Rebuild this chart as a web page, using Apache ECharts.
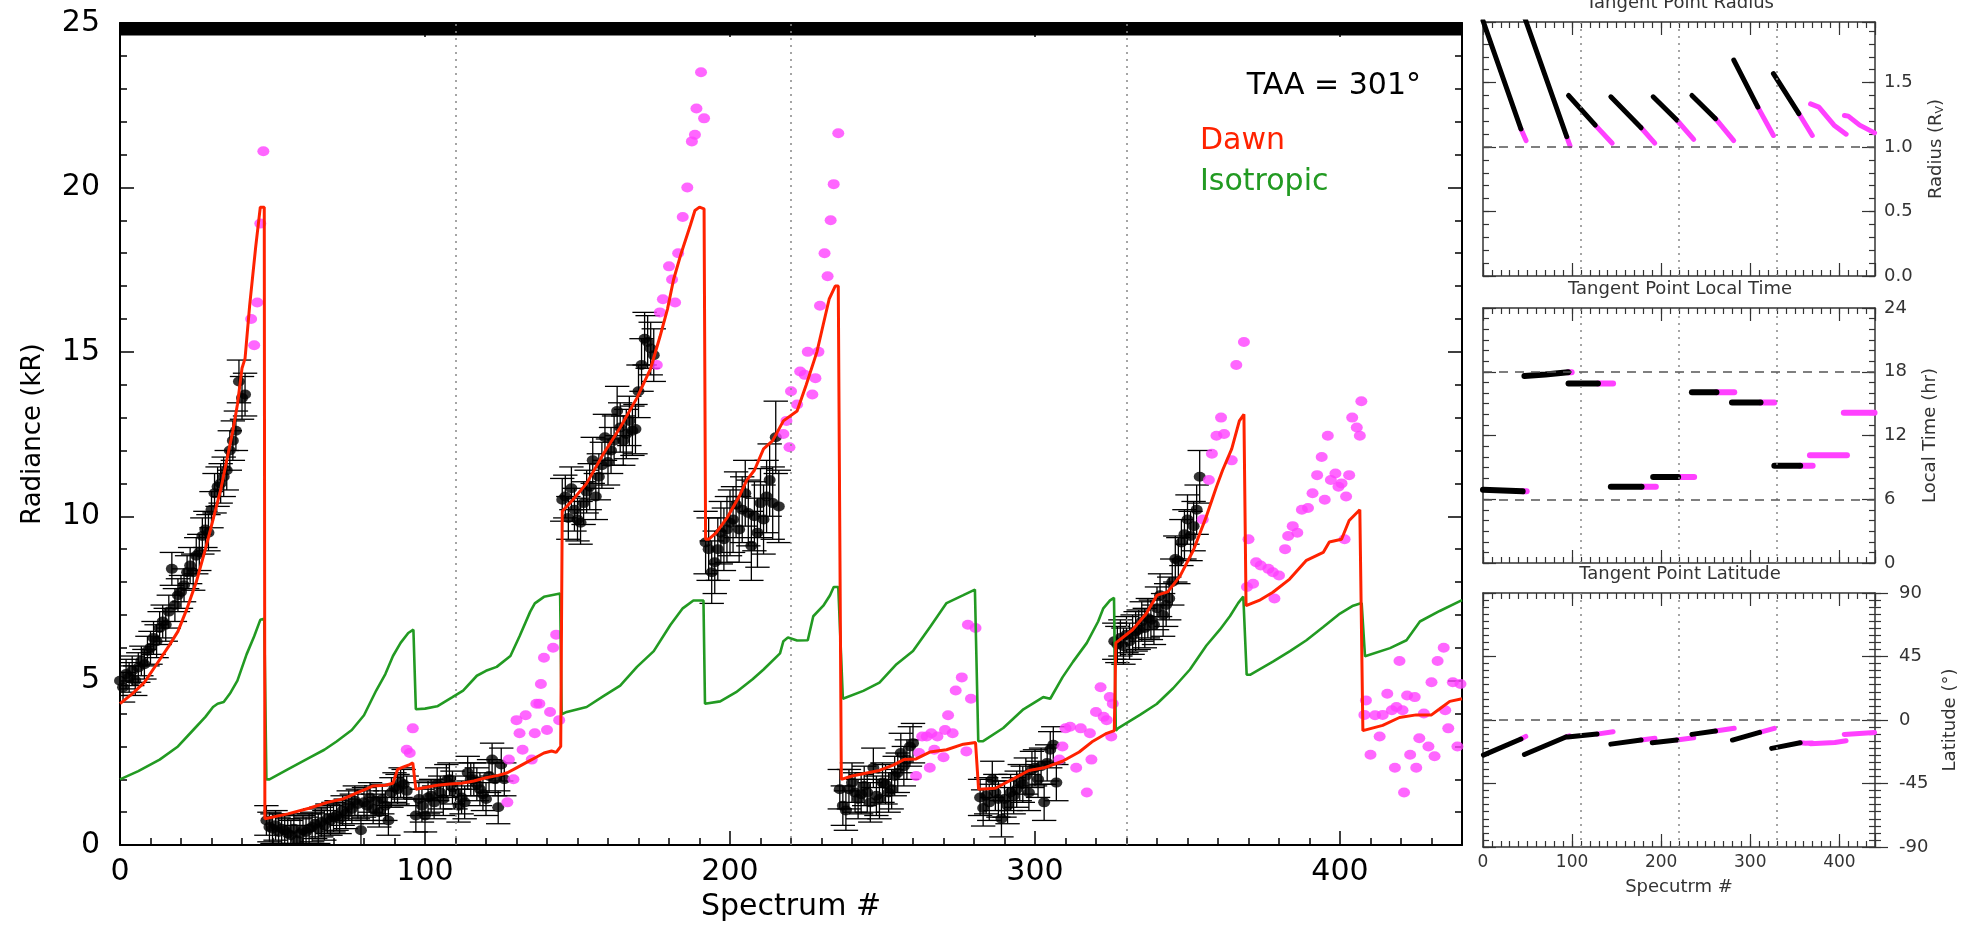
<!DOCTYPE html>
<html><head><meta charset="utf-8">
<script src="https://cdn.jsdelivr.net/npm/echarts@6/dist/echarts.min.js"></script>
<style>html,body{margin:0;padding:0;background:#fff}#c{width:1972px;height:927px}</style>
</head><body><div id="c"></div>
<script>
// ---------------- DATA ----------------
const scanDividers = [110, 220, 330];
const spectrumRange = [0, 440];

// observed radiance (black, with error bars): [spectrum, kR, err]
const observed = [
[0,5.0,.45],[1,4.8,.45],[2,5.2,.45],[3,5.1,.45],[4,5.3,.45],[5,5.0,.45],[6,5.4,.45],[7,5.6,.45],[8,5.5,.45],[9,5.9,.45],
[10,6.0,.5],[11,6.3,.5],[12,6.2,.5],[13,6.6,.5],[14,6.8,.5],[15,6.7,.5],[16,7.1,.5],[17,8.4,.5],[18,7.3,.5],[19,7.6,.5],
[20,7.7,.5],[21,7.9,.5],[22,8.3,.5],[23,8.5,.55],[24,8.3,.55],[25,8.8,.55],[26,8.9,.55],[27,9.4,.55],[28,9.6,.55],[29,9.5,.55],
[30,10.2,.55],[31,10.7,.6],[32,10.9,.6],[33,11.0,.6],[34,11.2,.6],[35,11.4,.6],[36,12.0,.6],[37,12.3,.6],[38,12.6,.6],[39,14.1,.65],
[40,13.6,.65],[41,13.7,.65],
[48,0.75,.45],[49,0.55,.45],[50,0.5,.45],[51,0.6,.45],[52,0.4,.45],[53,0.5,.45],[54,0.45,.45],[55,0.35,.45],[56,0.3,.45],[57,0.5,.45],
[58,0.15,.45],[59,0.35,.45],[60,0.45,.45],[61,0.4,.45],[62,0.5,.45],[63,0.55,.45],[64,0.65,.45],[65,0.5,.45],[66,0.7,.45],[67,0.6,.45],
[68,0.8,.45],[69,0.75,.45],[70,0.85,.45],[71,0.9,.45],[72,0.8,.45],[73,1.05,.45],[74,0.95,.45],[75,1.2,.45],[76,1.1,.45],[77,1.35,.45],
[78,1.25,.45],[79,0.45,.45],[80,1.3,.45],[81,1.2,.45],[82,1.45,.45],[83,1.1,.45],[84,1.35,.45],[85,1.0,.45],[86,1.4,.45],[87,1.2,.45],
[88,0.75,.45],[89,1.6,.45],[90,1.75,.45],[91,1.7,.45],[92,1.9,.45],[93,1.85,.45],[94,1.65,.45],
[97,0.9,.5],[98,1.4,.5],[99,1.2,.5],[100,0.9,.5],[101,1.45,.5],[102,1.5,.5],[103,1.3,.5],[104,1.85,.5],[105,1.6,.5],[106,1.4,.5],
[107,1.95,.5],[108,2.0,.5],[109,1.75,.5],[110,1.6,.5],[111,1.2,.5],[112,1.45,.5],[113,1.3,.5],[114,2.2,.5],[115,2.0,.5],[116,2.0,.5],
[117,1.85,.5],[118,1.7,.5],[119,1.55,.5],[120,1.4,.5],[121,2.1,.5],[122,2.6,.5],[123,2.0,.5],[124,1.15,.5],[125,2.45,.5],[126,2.0,.5],
[145,10.5,.65],[146,10.6,.65],[147,9.95,.65],[148,10.85,.65],[149,10.2,.65],[150,9.9,.65],[151,9.8,.65],[152,10.4,.65],[153,10.75,.65],[154,10.9,.7],
[155,11.7,.7],[156,10.6,.7],[157,11.2,.7],[158,11.55,.7],[159,12.4,.7],[160,11.65,.7],[161,12.0,.7],[162,12.3,.75],[163,13.2,.75],[164,12.7,.75],
[165,12.3,.75],[166,12.5,.75],[167,12.9,.75],[168,12.6,.75],[169,12.65,.75],[170,13.8,.8],[171,14.6,.8],[172,15.4,.8],[173,15.3,.8],[174,15.1,.8],[175,14.9,.8],
[192,9.2,.95],[193,9.0,.95],[194,8.3,.95],[195,8.6,.95],[196,9.0,.95],[197,9.5,.95],[198,9.3,.95],[199,9.6,1.0],[200,9.8,1.0],[201,9.9,1.0],
[202,10.35,1.0],[203,9.6,1.0],[204,10.2,1.0],[205,10.7,1.0],[206,10.1,1.0],[207,9.1,1.05],[208,10.0,1.05],[209,9.5,1.05],[210,10.4,1.05],[211,9.9,1.05],
[212,10.6,1.1],[213,11.1,1.1],[214,10.4,1.1],[215,12.4,1.1],[216,10.3,1.1],
[236,1.7,.6],[237,1.2,.6],[238,1.05,.6],[239,1.7,.6],[240,1.9,.6],[241,1.6,.6],[242,1.4,.6],[243,1.55,.6],[244,1.8,.6],[245,1.6,.6],
[246,1.3,.6],[247,2.35,.6],[248,1.5,.6],[249,1.4,.6],[250,1.9,.6],[251,1.85,.6],[252,1.6,.6],[253,1.7,.6],[254,2.1,.6],[255,2.2,.6],
[256,2.8,.6],[257,2.4,.6],[258,2.6,.6],[259,3.0,.6],[260,3.1,.6],
[282,1.45,.55],[283,1.13,.55],[284,1.5,.55],[285,1.3,.55],[286,2.0,.55],[287,1.6,.55],[288,1.4,.55],[289,0.8,.55],[290,1.4,.55],[291,1.2,.55],
[292,1.6,.55],[293,1.5,.55],[294,1.7,.55],[295,1.9,.55],[296,1.85,.55],[297,2.1,.55],[298,1.6,.55],[299,2.3,.55],[300,2.35,.55],[301,2.0,.55],
[302,2.4,.55],[303,1.3,.55],[304,2.5,.55],[305,2.9,.55],[306,3.05,.55],[307,1.9,.55],
[326,6.2,.55],[327,6.1,.55],[328,6.3,.55],[329,6.05,.55],[330,6.4,.55],[331,6.2,.55],[332,6.4,.6],[333,6.5,.6],[334,6.55,.6],[335,6.8,.6],
[336,6.6,.6],[337,6.9,.6],[338,6.85,.6],[339,6.7,.6],[340,7.2,.65],[341,7.6,.65],[342,7.0,.65],[343,7.3,.65],[344,7.5,.65],[345,8.0,.7],
[346,8.7,.7],[347,8.65,.7],[348,9.2,.7],[349,9.45,.75],[350,9.9,.75],[351,9.4,.75],[352,9.7,.75],[353,10.2,.75],[354,11.2,.8]
];

// observations not used in the fit (magenta): [spectrum, kR]
const excluded = [
[43,16.0],[44,15.2],[45,16.5],[46,18.9],[47,21.1],
[94,2.9],[95,2.8],[96,3.55],
[127,1.3],[127.5,2.6],[129,2.0],[130,3.8],[131,3.4],[132,2.9],[133,3.95],[135,2.6],[136,3.4],[136.5,4.3],[137.5,4.3],[138,4.9],[139,5.7],[140,3.5],[141,4.05],[142,6.0],[143,6.4],[144,3.8],
[176,14.6],[177,16.2],[178,16.6],[180,17.6],[181,17.2],[182,16.5],[183,18.0],[184.5,19.1],[186,20.0],[187.5,21.4],[188.5,21.6],[189,22.4],[190.5,23.5],[191.5,22.1],
[217.5,12.5],[218.5,12.9],[219.5,12.1],[220,13.8],[222,13.4],[223,14.4],[224.5,14.3],[225.5,15.0],[227,13.7],[228,14.2],[229,15.0],[229.5,16.4],[231,18.0],[232,17.3],[233,19.0],[234,20.1],[235.5,21.65],
[261,2.1],[262,2.8],[263,3.3],[264.5,3.3],[265.5,2.35],[266,3.4],[267,2.9],[268,3.3],[270,2.67],[270.5,3.5],[271.5,3.95],[273,3.4],[274,4.7],[276,5.1],[277.5,2.85],[279,4.45],[278,6.7],[280.5,6.6],
[308,2.6],[309,3.0],[310,3.55],[311.5,3.6],[313.5,2.35],[315,3.55],[317,1.6],[318,3.4],[318.5,2.6],[320,4.05],[321.5,4.8],[322.5,3.9],[323.5,3.8],[324.5,4.5],[325,3.3],[325.5,4.3],
[355,9.9],[357,11.1],[358,11.9],[359.5,12.45],[361,13.0],[362,12.5],[364.5,11.7],[366,14.6],[368.5,15.3],[370,9.3],[369.5,7.85],[371.5,7.95],[372.5,8.6],[374,8.5],[376.5,8.4],[378,8.3],[378.5,7.5],[380,8.2],
[382,9.0],[383,9.4],[384.5,9.7],[386,9.5],[387.5,10.2],[389.5,10.25],[391,10.7],[392.5,11.25],[394,11.8],[395,10.5],[396,12.45],[397,11.1],[398.5,11.3],[399.5,10.9],[400.5,11.0],[401.5,9.3],[402,10.6],[403,11.25],[404,13.0],[405.5,12.7],[406.5,12.45],[407,13.5],
[408,3.96],[408.5,4.4],[410,2.75],[411.5,3.95],[413,3.3],[414,3.96],[415.5,4.6],[417,4.1],[418,2.35],[418.5,4.2],[419.5,5.6],[420.5,4.1],[421,1.6],[422,4.55],[423,2.75],[424.5,4.5],[425,2.35],[426,3.25],[427.5,4.0],[429,3.0],[430,4.95],[431,2.7],[432,5.6],[434,6.0],[434.5,4.1],[435.5,3.55],[437,4.95],[438.5,3.0],[439.5,4.9]
];

// Dawn model (red)
const dawnModel = [
[0,4.3],[4,4.6],[8,4.95],[12,5.5],[16,6.05],[19,6.5],[22,7.2],[25,8.0],[28,9.0],[30.5,9.9],[33,10.8],[35,11.7],[37,12.6],[38.5,13.4],[40,14.5],[41,14.8],[42.5,16.4],[44.5,18.2],[46,19.4],[47.3,19.4],[47.5,0.8],
[48,0.8],[55,0.95],[62,1.12],[68,1.3],[73,1.4],[78,1.6],[81,1.72],[83,1.8],[87,1.82],[89.5,1.88],[91,2.3],[93,2.38],[95,2.45],[96,2.5],[97,1.7],
[100,1.75],[104,1.82],[108,1.86],[112,1.88],[116,1.95],[120,2.05],[124,2.12],[127,2.2],[130,2.35],[133,2.5],[136,2.65],[139,2.8],[141.5,2.86],[143,2.82],[144.5,3.0],[145,10.15],
[148.5,10.5],[153,11.0],[158.5,11.9],[164,12.7],[169.5,13.6],[174,14.5],[177,15.45],[179.5,16.3],[181.5,17.2],[184,18.0],[187,18.85],[188.5,19.3],[190,19.4],[191.5,19.35],[192,9.3],
[193,9.3],[195.5,9.5],[199,9.95],[203,10.6],[205.5,11.1],[208,11.4],[211,12.05],[214,12.3],[217.5,12.9],[222,13.2],[225,14.0],[228.5,15.0],[230.5,15.8],[232.5,16.6],[234.5,17.0],[235.5,17.0],[236.5,2.0],
[240,2.1],[244,2.18],[249,2.27],[253.5,2.43],[257,2.6],[261,2.62],[265.5,2.83],[271,2.9],[276.5,3.07],[280.5,3.12],[281.5,1.7],
[287,1.73],[293,2.02],[298,2.27],[303,2.35],[309,2.55],[314.5,2.83],[319,3.16],[323.5,3.4],[326,3.48],[326.5,6.15],
[332,6.55],[336.5,7.04],[340,7.6],[343.5,7.7],[347.5,8.17],[352,8.98],[356,9.95],[359.5,10.9],[361.5,11.4],[364.5,12.05],[367,12.9],[368.5,13.1],[369.2,7.28],
[373.5,7.44],[378,7.69],[383.5,8.09],[389,8.66],[394.5,8.9],[396.5,9.22],[400.5,9.3],[403,9.87],[406.5,10.2],[407.5,3.48],
[414,3.64],[419.5,3.88],[425,3.96],[430,3.96],[432.5,4.13],[436,4.37],[440,4.45]
];

// Isotropic model (green)
const isotropicModel = [
[0,2.0],[6,2.25],[13,2.6],[19,3.0],[24,3.5],[28,3.9],[30.5,4.2],[32,4.3],[34,4.35],[36,4.6],[38.5,5.0],[41.5,5.8],[44,6.35],[46,6.85],[47.3,6.88],[48,2.0],
[49,2.0],[55,2.3],[62,2.65],[67,2.9],[71,3.15],[76,3.5],[80,3.95],[84,4.7],[87,5.2],[89.5,5.75],[92,6.15],[94.5,6.45],[96.2,6.55],[97,4.13],
[100,4.15],[104,4.22],[109,4.5],[112.5,4.7],[117,5.15],[120,5.3],[123.5,5.42],[128,5.75],[131,6.35],[134.5,7.1],[136,7.35],[139,7.55],[144.3,7.65],[144.8,3.98],
[146.5,4.05],[153,4.2],[158.5,4.53],[164,4.85],[169.5,5.42],[175,5.9],[180.5,6.7],[184.5,7.2],[188,7.44],[191.3,7.44],[191.8,4.3],
[196.8,4.37],[202,4.65],[207.5,5.05],[211,5.34],[216.4,5.83],[217.5,6.2],[219,6.31],[222,6.22],[225.5,6.23],[227.3,6.96],[230.6,7.28],[232.8,7.6],[234,7.85],[235.5,7.85],[237,4.45],
[243.7,4.69],[249,4.94],[254.6,5.5],[260,5.9],[265.6,6.63],[271,7.36],[276.5,7.6],[280.3,7.77],[281.4,3.16],
[283,3.16],[289.6,3.56],[296.2,4.13],[302.7,4.5],[305,4.45],[309,5.1],[312.5,5.58],[317,6.15],[320.7,6.8],[322.4,7.2],[324.6,7.44],[325.9,7.52],[326.5,3.48],
[327.3,3.56],[334.4,3.96],[339.9,4.29],[345.3,4.77],[350.8,5.34],[356.2,6.07],[360.6,6.55],[363.9,6.96],[366.6,7.36],[368.3,7.56],[369.4,5.18],
[370.5,5.18],[378,5.58],[383.6,5.9],[389,6.23],[394.5,6.63],[400,7.04],[404.3,7.28],[407.1,7.36],[408.2,5.74],
[416.4,5.99],[421.8,6.23],[426.2,6.8],[432.7,7.12],[440,7.45]
];

// Tangent point geometry, per scan: fitted part (black) and excluded part (magenta)
const radiusFit = [
[[0,1.98],[42.6,1.14]],[[47,2.0],[94,1.08]],[[96,1.40],[126,1.17]],[[143.5,1.39],[177.5,1.15]],
[[191,1.39],[217.5,1.21]],[[234.5,1.40],[261,1.22]],[[281.5,1.675],[308.5,1.31]],[[326,1.57],[354.5,1.26]]
];
const radiusExcl = [
[[42.6,1.14],[48.3,1.05]],[[94,1.08],[97.7,1.01]],[[126,1.17],[145,1.03]],[[177.5,1.15],[192.8,1.03]],
[[217.5,1.21],[236.5,1.06]],[[261,1.22],[281.4,1.05]],[[308.5,1.31],[326,1.09]],[[354.5,1.26],[369.6,1.09]],
[[367.7,1.335],[377,1.31],[394,1.17],[407.6,1.10]],[[405.7,1.245],[410,1.24],[422.8,1.17],[439.5,1.11]]
];
const localTimeFit = [
[[0,6.9],[44.5,6.75]],[[46.5,17.6],[70,17.75],[72,17.85],[95.5,17.95]],[[96,16.9],[129,16.9]],[[143.5,7.17],[178,7.17]],
[[191,8.1],[219,8.1]],[[234.5,16.07],[262,16.07]],[[279.5,15.1],[311.5,15.1]],[[327,9.15],[356,9.15]]
];
const localTimeExcl = [
[[44.5,6.75],[49,6.75]],[[95.5,17.95],[99.5,17.95]],[[129,16.9],[146,16.9]],[[178,7.17],[194,7.17]],
[[219,8.1],[237,8.1]],[[262,16.07],[282,16.07]],[[311.5,15.1],[327,15.1]],[[356,9.15],[370,9.15]],
[[367,10.15],[408.5,10.15]],[[405,14.15],[439.5,14.15]]
];
const latitudeFit = [
[[0.5,-24.9],[42.6,-13.5]],[[46.5,-24.4],[93,-12.0]],[[95,-12.0],[128,-10.0]],[[143.5,-17.1],[177.5,-14.2]],
[[190,-16.1],[217.5,-14.2]],[[234.5,-10.2],[261,-7.8]],[[280,-14.2],[310.5,-8.8]],[[324,-20.1],[356,-16.1]]
];
const latitudeExcl = [
[[42.6,-13.5],[48,-11.6]],[[93,-12.0],[97,-11.2]],[[128,-10.0],[146,-8.3]],[[177.5,-14.2],[193,-13.0]],
[[217.5,-14.2],[236.5,-12.6]],[[261,-7.8],[282,-5.9]],[[310.5,-8.8],[327,-5.9]],[[356,-16.1],[362,-16.5],[369.5,-16.3]],
[[367.5,-16.8],[395,-16.0],[407.5,-14.7]],[[405.5,-10.2],[439.5,-8.8]]
];
const radiusRefLine = [1.0];
const localTimeRefLines = [6, 18];
const latitudeRefLine = [0];

// ---------------- STYLE ----------------
const FONT = "'DejaVu Sans', sans-serif";
const RED = '#ff2200', GREEN = '#229a22', MAGENTA = '#ff40ff', PANEL = '#333';

const xAxes = [], yAxes = [];
function addAxes(list, grid, isX, c) {
  const sides = isX ? ['bottom', 'top'] : ['left', 'right'];
  let mainIdx = -1;
  sides.forEach(side => {
    const lab = c.labelSide === side;
    const base = {gridIndex: grid, type: 'value', position: side, min: c.min, max: c.max,
      splitLine: {show: false}, silent: true};
    const major = Object.assign({}, base, {
      interval: c.major,
      axisLine: {show: true, onZero: false, lineStyle: {color: c.color, width: c.lineWidth}},
      axisTick: {show: true, inside: true, length: c.majorLen, lineStyle: {color: c.color, width: c.tickWidth}},
      axisLabel: lab ? {show: true, margin: c.margin, color: c.color, fontFamily: FONT, fontSize: c.fontSize,
        formatter: c.formatter} : {show: false}
    });
    if (lab && c.name) {
      major.name = c.name; major.nameLocation = 'middle'; major.nameGap = c.nameGap;
      if (!isX) major.nameRotate = 90;
      major.nameTextStyle = {color: c.color, fontFamily: FONT, fontSize: c.nameSize, rich: c.rich};
    }
    list.push(major);
    if (side === sides[0]) mainIdx = list.length - 1;
    list.push(Object.assign({}, base, {
      interval: c.minor, axisLine: {show: false, onZero: false},
      axisTick: {show: true, inside: true, length: c.minorLen, lineStyle: {color: c.color, width: c.tickWidth}},
      axisLabel: {show: false}
    }));
    if (c.outsideSide === side) {
      list.push(Object.assign({}, base, {interval: c.major, axisLine: {show: false, onZero: false},
        axisTick: {show: true, inside: false, length: c.majorLen, lineStyle: {color: c.color, width: c.tickWidth}}, axisLabel: {show: false}}));
      list.push(Object.assign({}, base, {interval: c.minor, axisLine: {show: false, onZero: false},
        axisTick: {show: true, inside: false, length: c.minorLen, lineStyle: {color: c.color, width: c.tickWidth}}, axisLabel: {show: false}}));
    }
  });
  return mainIdx;
}
const hundreds = v => (v % 100 === 0 ? String(v) : '');

// main grid axes
const mainX = addAxes(xAxes, 0, true, {min: spectrumRange[0], max: spectrumRange[1], major: 100, minor: 10,
  majorLen: 14, minorLen: 7, color: '#000', lineWidth: 2, tickWidth: 1.5, labelSide: 'bottom', margin: 12,
  fontSize: 30, formatter: hundreds, name: 'Spectrum #', nameGap: 44, nameSize: 30});
const mainY = addAxes(yAxes, 0, false, {min: 0, max: 25, major: 5, minor: 1, majorLen: 14, minorLen: 7,
  color: '#000', lineWidth: 2, tickWidth: 1.5, labelSide: 'left', margin: 20, fontSize: 30,
  name: 'Radiance (kR)', nameGap: 74, nameSize: 26});

// panel axes
const panelX = [1, 2, 3].map(g => addAxes(xAxes, g, true, {min: spectrumRange[0], max: spectrumRange[1], major: 100, minor: 10,
  majorLen: 13, minorLen: 6, color: PANEL, lineWidth: 1.5, tickWidth: 1.2, labelSide: g === 3 ? 'bottom' : null,
  margin: 7, fontSize: 17, formatter: hundreds, name: 'Specutrm #', nameGap: 31, nameSize: 18}));
const panelY = [
  addAxes(yAxes, 1, false, {min: 0, max: 1.97, major: 0.5, minor: 0.1, majorLen: 13, minorLen: 6, color: PANEL,
    lineWidth: 1.5, tickWidth: 1.2, labelSide: 'right', margin: 9, fontSize: 18,
    formatter: v => (Math.abs(v * 2 - Math.round(v * 2)) < 1e-6 ? v.toFixed(1) : ''),
    name: '{a|Radius (R}{s|V}{a|)}', nameGap: 52, nameSize: 18,
    rich: {a: {fontFamily: FONT, fontSize: 18, color: PANEL}, s: {fontFamily: FONT, fontSize: 11, color: PANEL, padding: [8, 0, 0, 0]}}}),
  addAxes(yAxes, 2, false, {min: 0, max: 24, major: 6, minor: 1, majorLen: 13, minorLen: 6, color: PANEL,
    lineWidth: 1.5, tickWidth: 1.2, labelSide: 'right', margin: 9, fontSize: 18,
    name: 'Local Time (hr)', nameGap: 46, nameSize: 18}),
  addAxes(yAxes, 3, false, {min: -90, max: 90, major: 45, minor: 5, majorLen: 13, minorLen: 6, color: PANEL,
    lineWidth: 1.5, tickWidth: 1.2, labelSide: 'right', margin: 24, fontSize: 18, outsideSide: 'right',
    name: 'Latitude (°)', nameGap: 66, nameSize: 18})
];

// ---------------- SERIES ----------------
const series = [];
const dotted = {type: [2, 5], color: '#888', width: 1.5};
function dividerLines() {
  return {silent: true, symbol: 'none', label: {show: false}, lineStyle: dotted,
    data: scanDividers.map(v => ({xAxis: v}))};
}

// error bars
series.push({
  type: 'custom', xAxisIndex: mainX, yAxisIndex: mainY, data: observed, clip: true, z: 2,
  encode: {x: 0, y: 1},
  renderItem: function (params, api) {
    const s = api.value(0), v = api.value(1), e = api.value(2), half = 4;
    const t = api.coord([s, v + e]), b = api.coord([s, v - e]);
    const tl = api.coord([s - half, v + e]), tr = api.coord([s + half, v + e]);
    const bl = api.coord([s - half, v - e]), br = api.coord([s + half, v - e]);
    const st = {stroke: '#000', lineWidth: 1.3};
    return {type: 'group', children: [
      {type: 'line', shape: {x1: t[0], y1: t[1], x2: b[0], y2: b[1]}, style: st},
      {type: 'line', shape: {x1: tl[0], y1: tl[1], x2: tr[0], y2: tr[1]}, style: st},
      {type: 'line', shape: {x1: bl[0], y1: bl[1], x2: br[0], y2: br[1]}, style: st}
    ]};
  }
});
series.push({
  type: 'scatter', xAxisIndex: mainX, yAxisIndex: mainY, data: observed.map(d => [d[0], d[1]]),
  symbol: 'circle', symbolSize: [12, 10], itemStyle: {color: '#000'}, z: 3, silent: true,
  markLine: dividerLines(),
  markArea: {silent: true, itemStyle: {color: '#000', opacity: 1}, data: [[{yAxis: 24.62}, {yAxis: 25}]]}
});
series.push({
  type: 'scatter', xAxisIndex: mainX, yAxisIndex: mainY, data: excluded,
  symbol: 'circle', symbolSize: [12, 10], itemStyle: {color: MAGENTA}, z: 4, silent: true
});
series.push({
  type: 'line', xAxisIndex: mainX, yAxisIndex: mainY, data: isotropicModel, symbol: 'none',
  lineStyle: {color: GREEN, width: 2.6}, z: 5, silent: true
});
series.push({
  type: 'line', xAxisIndex: mainX, yAxisIndex: mainY, data: dawnModel, symbol: 'none',
  lineStyle: {color: RED, width: 3}, z: 6, silent: true
});

// panels
const panels = [
  {fit: radiusFit, excl: radiusExcl, refs: radiusRefLine, width: 5},
  {fit: localTimeFit, excl: localTimeExcl, refs: localTimeRefLines, width: 6},
  {fit: latitudeFit, excl: latitudeExcl, refs: latitudeRefLine, width: 5}
];
panels.forEach((p, i) => {
  series.push({
    type: 'line', xAxisIndex: panelX[i], yAxisIndex: panelY[i], data: [], symbol: 'none', silent: true,
    markLine: {silent: true, symbol: 'none', label: {show: false},
      data: scanDividers.map(v => ({xAxis: v, lineStyle: dotted})).concat(
        p.refs.map(v => ({yAxis: v, lineStyle: {type: [9, 7], color: '#555', width: 1.5}})))}
  });
  [[p.fit, '#000'], [p.excl, MAGENTA]].forEach(([segs, col]) => {
    segs.forEach(seg => series.push({
      type: 'line', xAxisIndex: panelX[i], yAxisIndex: panelY[i], data: seg, symbol: 'none', silent: true,
      lineStyle: {color: col, width: p.width, cap: 'round'}, z: col === '#000' ? 4 : 3
    }));
  });
});

// ---------------- TEXT ----------------
function txt(text, x, y, size, color, align) {
  return {type: 'text', x: x, y: y, silent: true, z: 100,
    style: {text: text, fill: color, font: size + 'px ' + FONT, textAlign: align, align: align,
      textVerticalAlign: 'middle', verticalAlign: 'middle'}};
}
const graphic = [
  txt('TAA = 301°', 1421, 86, 30, '#000', 'right'),
  txt('Dawn', 1200, 141, 30, RED, 'left'),
  txt('Isotropic', 1200, 182, 30, GREEN, 'left'),
  txt('Tangent Point Radius', 1680, 3, 18, PANEL, 'center'),
  txt('Tangent Point Local Time', 1680, 289, 18, PANEL, 'center'),
  txt('Tangent Point Latitude', 1680, 574, 18, PANEL, 'center')
];

const chart = echarts.init(document.getElementById('c'), null, {renderer: 'canvas'});
chart.setOption({
  animation: false,
  backgroundColor: '#fff',
  grid: [
    {left: 120, top: 23, width: 1342, height: 823},
    {left: 1483, top: 22, width: 392, height: 254},
    {left: 1483, top: 308, width: 392, height: 255},
    {left: 1483, top: 593, width: 392, height: 254}
  ],
  xAxis: xAxes, yAxis: yAxes, series: series, graphic: graphic
});
</script></body></html>
